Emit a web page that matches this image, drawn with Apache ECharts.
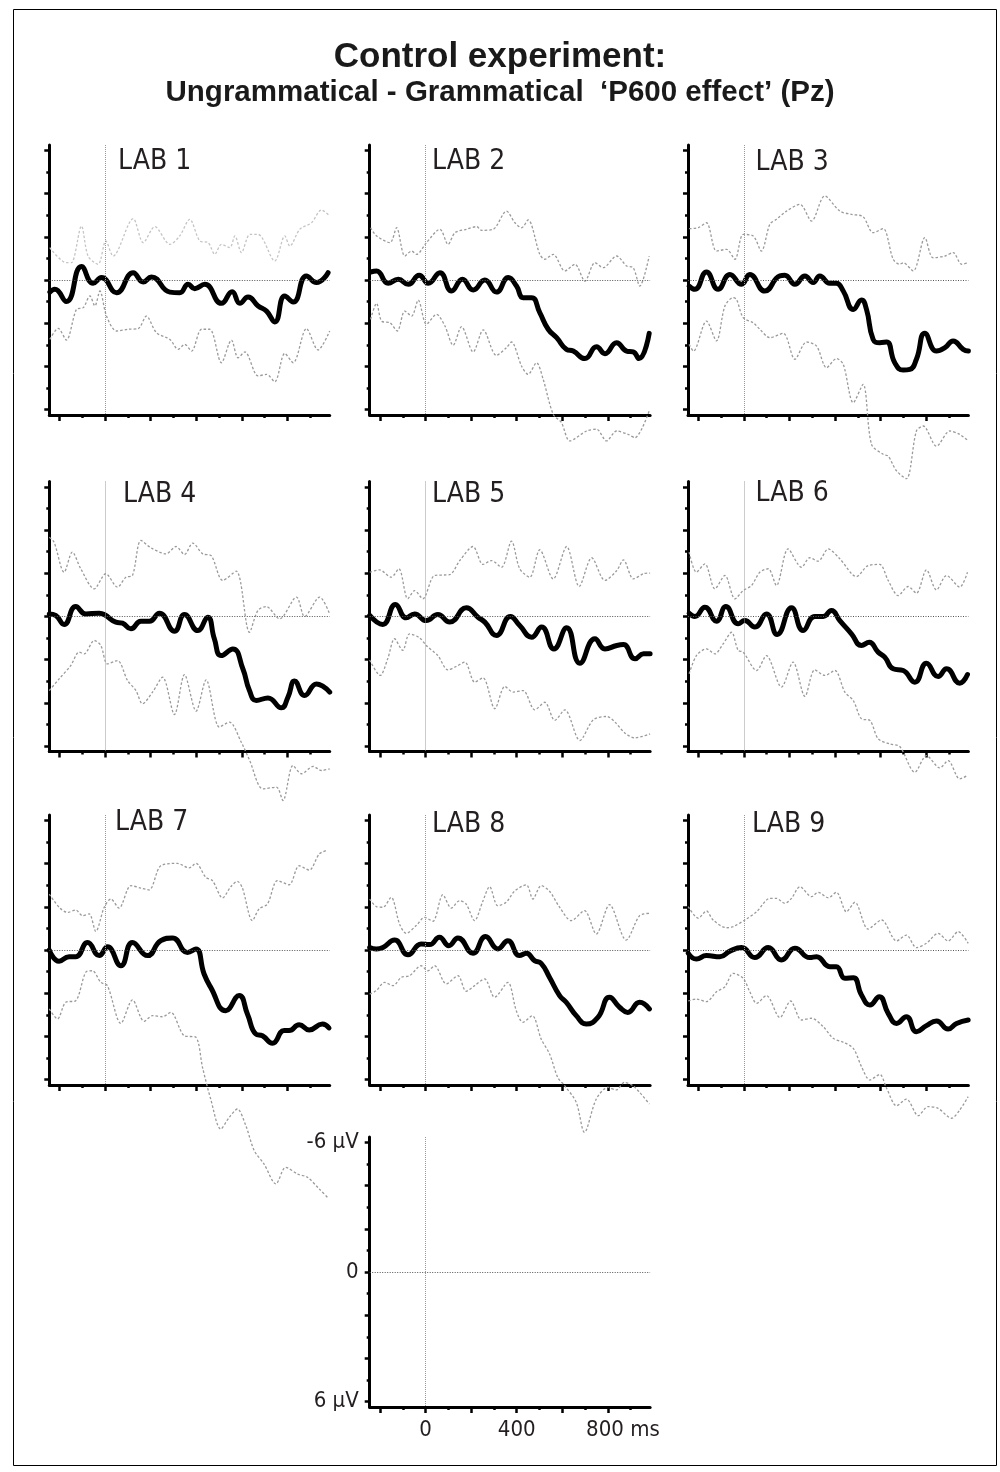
<!DOCTYPE html>
<html><head><meta charset="utf-8">
<script src="https://cdn.jsdelivr.net/npm/echarts@6/dist/echarts.min.js"></script>
<style>html,body{margin:0;padding:0;background:#fff}#c{width:1000px;height:1472px}</style>
</head><body><div id="c"></div>
<script>
// ---------- DATA (time ms, amplitude µV; negative plotted up) ----------
const labNames = ['LAB 1','LAB 2','LAB 3','LAB 4','LAB 5','LAB 6','LAB 7','LAB 8','LAB 9'];
const xRange = [-245, 985];
const yRange = [-6.25, 6.25];
const xMajorTicks = [-200, 0, 200, 400, 600, 800];
const xMinorTicks = [-100, 100, 300, 500, 700, 900];
const yMajorTicks = [-6, -4, -2, 0, 2, 4, 6];
const yMinorTicks = [-5, -3, -1, 1, 3, 5];
const xTickLabels = [0, 400, 800];
const yTickLabels = [-6, 0, 6];

const lab1Mean = [[-243,0.56],[-221,0.43],[-170,1.0],[-104,-0.62],[-53,0.15],[-16,-0.11],[50,0.59],[123,-0.34],[167,0.09],[203,-0.14],[284,0.56],[327,0.59],[364,0.2],[393,0.4],[437,0.2],[510,1.08],[557,0.54],[591,1.08],[627,0.79],[671,1.2],[708,1.44],[744,1.94],[788,0.74],[825,1.02],[883,-0.19],[927,0.12],[978,-0.34]];
const lab1Upper = [[-243,-1.5],[-170,-0.8],[-148,-0.8],[-104,-2.5],[-75,-1.11],[-31,-0.73],[3,-1.81],[35,-1.11],[123,-2.84],[167,-1.73],[218,-2.47],[284,-1.65],[327,-2.04],[371,-2.81],[415,-1.81],[452,-1.73],[481,-1.19],[510,-1.65],[547,-1.5],[569,-2.04],[598,-1.27],[635,-2.11],[671,-2.11],[744,-0.88],[788,-2.04],[810,-1.57],[854,-2.35],[905,-2.65],[949,-3.24],[985,-2.96]];
const lab1Lower = [[-243,2.75],[-206,2.24],[-170,2.78],[-126,1.36],[-96,1.28],[-67,0.74],[-45,1.2],[-23,0.51],[6,1.67],[50,2.36],[101,2.28],[145,2.25],[181,1.67],[225,2.44],[284,2.75],[320,3.21],[349,2.98],[379,3.29],[423,2.28],[459,2.28],[510,3.83],[554,2.78],[583,3.6],[613,3.33],[671,4.44],[708,4.37],[744,4.71],[788,3.4],[825,3.83],[883,2.25],[934,3.24],[985,2.36]];

const lab2Mean = [[-241,-0.37],[-215,-0.42],[-164,0.15],[-120,-0.03],[-76,0.2],[-28,-0.22],[12,0.15],[63,-0.34],[114,0.51],[162,-0.03],[209,0.46],[260,0],[311,0.56],[363,-0.11],[399,0.28],[428,0.82],[465,0.82],[501,1.51],[538,2.28],[575,2.67],[618,3.21],[648,3.29],[699,3.64],[750,3.09],[787,3.41],[838,2.9],[882,3.29],[911,3.33],[936,3.64],[981,2.47]];
const lab2Upper = [[-241,-2.42],[-215,-2.04],[-156,-1.73],[-127,-2.42],[-91,-1.11],[-61,-1.34],[-39,-1.19],[4,-1.73],[63,-2.35],[99,-1.65],[129,-2.19],[180,-2.35],[224,-2.47],[246,-2.3],[297,-2.35],[355,-3.19],[392,-2.65],[421,-2.42],[450,-2.78],[501,-1.19],[523,-0.96],[560,-1.19],[611,-0.42],[655,-0.73],[699,0.05],[743,-0.8],[779,-0.57],[838,-1.11],[882,-0.65],[911,-0.57],[940,0.28],[981,-1.11]];
const lab2Lower = [[-241,1.82],[-215,1.08],[-193,1.9],[-156,1.98],[-124,2.36],[-91,1.44],[-61,1.67],[-32,0.93],[4,2.05],[48,1.59],[85,2.13],[121,3.02],[158,2.16],[209,3.33],[253,2.31],[311,3.49],[355,3.13],[377,2.87],[421,3.98],[450,4.37],[487,3.83],[516,4.6],[560,6.22],[596,6.6],[633,7.45],[706,6.99],[750,6.91],[794,7.45],[838,6.99],[889,7.15],[918,7.3],[981,6.06]];

const lab3Mean = [[-240,0.28],[-215,0.43],[-164,-0.37],[-113,0.43],[-61,-0.26],[-10,0.2],[26,-0.26],[92,0.51],[158,-0.19],[180,-0.22],[224,0.2],[268,-0.19],[304,0.12],[333,-0.19],[377,0.15],[406,0.15],[436,0.51],[480,1.36],[516,0.93],[538,1.36],[567,2.75],[596,2.9],[626,2.87],[662,3.83],[699,4.17],[728,4.14],[757,3.67],[794,2.47],[845,3.29],[882,3.13],[918,2.82],[962,3.21],[985,3.29]];
const lab3Upper = [[-240,-2.38],[-200,-2.42],[-164,-2.65],[-120,-1.34],[-76,-1.42],[-39,-0.96],[-3,-2.11],[41,-2.04],[77,-1.34],[114,-2.58],[143,-2.81],[187,-3.19],[246,-3.5],[297,-2.73],[355,-3.89],[421,-3.19],[472,-3.04],[523,-2.93],[567,-2.19],[611,-2.38],[655,-0.96],[684,-0.73],[699,-0.8],[743,-0.42],[794,-1.96],[830,-1.03],[882,-1.11],[918,-1.27],[955,-0.73],[985,-0.8]];
const lab3Lower = [[-240,2.98],[-221,3.29],[-164,1.9],[-120,2.82],[-83,1.2],[-47,0.82],[-32,0.9],[-3,1.74],[41,1.98],[70,2.28],[114,2.67],[173,2.47],[224,3.67],[275,2.87],[319,3.06],[363,4.06],[406,3.64],[436,3.9],[480,5.68],[523,4.83],[560,7.61],[611,8.07],[633,8.15],[670,8.84],[713,9.2],[757,6.99],[787,6.76],[845,7.69],[904,6.99],[947,7.15],[985,7.45]];

const lab4Mean = [[-245,-0.12],[-217,-0.05],[-180,0.37],[-129,-0.46],[-85,-0.12],[-26,-0.15],[-4,-0.09],[47,0.26],[76,0.31],[113,0.57],[157,0.22],[194,0.22],[238,-0.15],[304,0.68],[348,-0.09],[406,0.65],[450,0.03],[479,1.03],[509,1.81],[560,1.5],[604,2.42],[633,3.43],[663,3.89],[714,3.77],[773,4.23],[802,3.73],[831,2.99],[875,3.66],[927,3.12],[956,3.24],[985,3.5]];
const lab4Upper = [[-245,-3.67],[-224,-3.44],[-180,-2.05],[-144,-2.98],[-107,-2.21],[-48,-1.28],[3,-1.98],[54,-1.36],[91,-1.82],[120,-1.9],[157,-3.52],[201,-3.18],[267,-2.9],[311,-3.24],[348,-2.87],[384,-3.4],[428,-2.9],[465,-2.82],[516,-1.67],[575,-2.1],[633,0.73],[670,-0.28],[707,-0.46],[765,0.11],[839,-0.9],[875,0],[941,-0.9],[985,-0.12]];
const lab4Lower = [[-245,3.43],[-202,2.89],[-151,2.27],[-114,1.65],[-92,1.73],[-48,1.11],[-19,1.34],[10,2.19],[54,2.04],[98,2.96],[135,3.43],[164,4.04],[208,3.5],[252,2.81],[304,4.54],[348,2.69],[399,4.38],[443,2.93],[501,5.12],[545,4.89],[597,5.82],[633,6.64],[692,7.98],[751,7.9],[780,8.52],[824,6.9],[861,7.28],[912,6.94],[949,7.13],[985,7.05]];

const lab5Mean = [[-245,-0.05],[-188,0.37],[-132,-0.56],[-85,0.06],[-48,-0.12],[3,0.19],[54,-0.09],[106,0.26],[179,-0.4],[230,0.03],[260,0.26],[311,0.88],[372,0],[413,0.42],[465,0.96],[509,0.49],[563,1.5],[619,0.52],[677,2.16],[743,1.03],[787,1.5],[839,1.34],[868,1.3],[919,1.96],[956,1.73],[985,1.73]];
const lab5Upper = [[-245,-2.05],[-202,-2.16],[-151,-1.82],[-117,-2.21],[-78,-0.82],[-48,-1.2],[-12,-0.82],[40,-1.9],[106,-1.94],[150,-2.59],[208,-3.24],[252,-2.41],[289,-2.59],[333,-2.28],[377,-3.49],[413,-2.21],[457,-1.82],[501,-3.09],[560,-1.74],[619,-3.24],[674,-1.39],[729,-2.72],[787,-1.67],[839,-2.13],[868,-2.62],[912,-1.74],[956,-1.98],[985,-2.01]];
const lab5Lower = [[-245,2.01],[-199,2.73],[-166,1.96],[-136,1.03],[-100,1.57],[-70,0.8],[-26,0.99],[3,1.34],[54,1.81],[98,2.47],[135,2.31],[172,2.11],[216,3.04],[252,2.84],[304,4.27],[348,3.24],[384,3.5],[428,3.43],[479,4.32],[523,3.97],[567,4.81],[611,4.32],[677,5.74],[736,4.78],[795,4.63],[831,4.89],[875,5.4],[919,5.62],[985,5.43]];

const lab6Mean = [[-240,-0.15],[-215,0],[-171,-0.43],[-120,0.22],[-79,-0.46],[-25,0.34],[4,0.19],[48,0.49],[99,-0.12],[146,0.83],[209,-0.4],[260,0.65],[311,0],[348,0],[384,-0.28],[421,0.19],[472,0.8],[516,1.34],[550,1.19],[589,1.65],[618,1.88],[655,2.42],[699,2.5],[750,3.04],[801,2.16],[852,2.78],[889,2.42],[947,3.09],[981,2.69]];
const lab6Upper = [[-240,-2.98],[-208,-2.05],[-171,-2.44],[-127,-1.28],[-83,-1.9],[-39,-0.82],[-3,-1.2],[34,-1.44],[70,-2.05],[107,-2.21],[143,-1.44],[194,-3.13],[253,-2.28],[289,-2.72],[326,-2.56],[370,-3.13],[421,-2.67],[494,-1.85],[545,-2.36],[596,-2.41],[633,-1.67],[677,-0.97],[721,-1.39],[757,-1.08],[801,-2.16],[845,-1.23],[889,-1.9],[947,-1.36],[981,-2.05]];
const lab6Lower = [[-240,2.65],[-208,1.81],[-164,1.5],[-127,1.73],[-91,1.27],[-54,0.73],[-25,1.57],[-3,1.65],[56,2.5],[99,1.81],[165,3.27],[216,2.11],[268,3.7],[311,2.47],[355,2.73],[399,2.5],[443,3.5],[480,3.89],[516,4.74],[553,4.81],[589,5.66],[640,5.9],[684,6.02],[750,7.21],[801,6.44],[860,7.01],[896,6.67],[947,7.52],[981,7.36]];

const lab7Mean = [[-245,0],[-202,0.52],[-158,0.31],[-129,0.31],[-77,-0.35],[-26,0.26],[10,-0.15],[69,0.73],[120,-0.35],[186,0.26],[244,-0.43],[295,-0.56],[361,0.11],[398,-0.05],[434,1.11],[463,1.73],[529,2.81],[588,2.11],[624,2.96],[661,3.89],[690,3.97],[734,4.32],[785,3.73],[807,3.73],[851,3.46],[895,3.7],[953,3.43],[982,3.61]];
const lab7Upper = [[-245,-2.59],[-202,-1.98],[-165,-1.74],[-129,-1.85],[-99,-1.59],[-70,-1.67],[-41,-0.86],[-4,-1.98],[25,-2.36],[61,-1.94],[113,-2.98],[156,-2.87],[193,-2.78],[244,-3.9],[317,-4.01],[368,-3.8],[398,-4.01],[442,-3.36],[471,-3.21],[515,-2.41],[551,-2.93],[580,-3.18],[602,-2.87],[646,-1.36],[675,-1.9],[712,-2.13],[756,-3.21],[807,-3.02],[851,-3.9],[895,-3.7],[939,-4.44],[975,-4.63]];
const lab7Lower = [[-245,2.73],[-209,3.19],[-173,2.42],[-129,2.35],[-85,1.03],[-56,0.96],[-19,1.5],[10,1.65],[69,3.4],[120,2.31],[171,3.3],[208,3.04],[251,3.09],[288,2.89],[347,3.97],[398,4.04],[427,5.43],[463,6.9],[507,8.29],[544,7.75],[580,7.36],[617,8.13],[654,9.29],[697,9.91],[749,10.83],[792,10.06],[844,10.37],[887,10.52],[939,11.06],[975,11.45]];

const lab8Mean = [[-245,-0.12],[-216,-0.05],[-187,-0.12],[-136,-0.46],[-77,0.22],[-19,-0.28],[18,-0.25],[61,-0.59],[102,-0.2],[142,-0.56],[208,0.15],[263,-0.62],[317,-0.05],[361,-0.43],[412,0.26],[442,0.15],[478,0.49],[507,0.62],[544,1.27],[588,2.11],[617,2.42],[661,3.04],[705,3.43],[756,3.12],[807,2.19],[851,2.65],[887,2.89],[939,2.42],[982,2.73]];
const lab8Upper = [[-245,-2.36],[-216,-2.01],[-187,-1.98],[-151,-2.44],[-114,-1.2],[-85,-0.77],[-41,-1.13],[-4,-1.51],[32,-1.33],[76,-2.56],[113,-1.94],[149,-2.28],[178,-2.13],[215,-1.36],[251,-2.25],[281,-2.93],[317,-2.05],[354,-2.21],[390,-2.72],[442,-3.02],[471,-2.36],[507,-2.98],[544,-2.72],[588,-1.98],[639,-1.36],[697,-1.82],[749,-0.74],[807,-2.1],[880,-0.46],[939,-1.59],[982,-1.7]];
const lab8Lower = [[-245,2.04],[-216,1.88],[-180,1.5],[-143,1.65],[-107,1.27],[-70,1.19],[-19,0.73],[10,0.96],[40,0.73],[91,1.57],[142,1.19],[178,1.91],[215,1.65],[259,1.34],[303,2.19],[361,1.5],[398,2.81],[427,3.35],[468,3.04],[507,4.12],[544,4.81],[580,5.9],[610,6.28],[661,7.05],[697,8.44],[749,6.9],[800,6.36],[836,6.48],[873,6.13],[909,6.28],[939,6.59],[982,7.13]];

const lab9Mean = [[-244,0.15],[-208,0.42],[-164,0.26],[-105,0.31],[-61,0.05],[-10,-0.11],[48,0.35],[107,-0.11],[165,0.46],[224,-0.08],[289,0.35],[319,0.31],[377,0.77],[406,0.77],[443,1.31],[480,1.28],[516,2.08],[553,2.55],[594,2.16],[633,2.93],[670,3.4],[713,3.09],[757,3.78],[801,3.5],[845,3.29],[896,3.66],[933,3.4],[984,3.24]];
const lab9Upper = [[-244,-2.01],[-200,-1.47],[-164,-1.81],[-135,-1.39],[-76,-1.03],[-47,-1.08],[12,-1.44],[56,-1.77],[114,-2.39],[143,-2.39],[180,-2.16],[209,-2.39],[246,-2.93],[297,-2.47],[326,-2.67],[370,-2.42],[406,-2.67],[450,-1.77],[487,-2.21],[545,-0.97],[604,-1.39],[670,-0.42],[713,-0.69],[757,-0.11],[801,-0.31],[852,-0.77],[896,-0.42],[940,-0.85],[984,-0.31]];
const lab9Lower = [[-244,2.36],[-208,2.27],[-164,2.39],[-120,1.93],[-83,1.7],[-47,1.08],[-3,1.31],[26,1.93],[56,2.47],[99,2.11],[158,3.13],[205,2.36],[253,3.24],[297,3.16],[348,3.55],[392,4.09],[436,4.27],[480,4.55],[516,5.4],[553,6.02],[596,5.76],[626,6.4],[670,7.21],[713,6.9],[765,7.67],[808,7.25],[852,7.33],[911,7.79],[947,7.41],[984,6.79]];

const meanSeries = [lab1Mean, lab2Mean, lab3Mean, lab4Mean, lab5Mean, lab6Mean, lab7Mean, lab8Mean, lab9Mean];
const upperSeries = [lab1Upper, lab2Upper, lab3Upper, lab4Upper, lab5Upper, lab6Upper, lab7Upper, lab8Upper, lab9Upper];
const lowerSeries = [lab1Lower, lab2Lower, lab3Lower, lab4Lower, lab5Lower, lab6Lower, lab7Lower, lab8Lower, lab9Lower];

// ---------- LAYOUT ----------
const colLefts = [49.3, 369.7, 688];
const rowTops = [145, 481.5, 815];
const legendGrid = {left: 369.7, top: 1137};
const gridW = 280.4, gridH = 270;
const labLabelPos = [[118,162],[432,162],[755.5,163],[123,495],[432,495],[755.5,493.5],[115,823],[432,825],[752,825]];
const NARROW = '"Liberation Sans Narrow", "DejaVu Sans Condensed", "Liberation Sans", sans-serif';

const chart = echarts.init(document.getElementById('c'), null, {renderer: 'canvas'});

const grids = [], xAxes = [], yAxes = [], series = [];
function addGrid(left, top, withLabels) {
  const g = grids.length;
  grids.push({left: left, top: top, width: gridW, height: gridH, outerBoundsMode: 'none', containLabel: false});
  const baseX = {gridIndex: g, type: 'value', min: xRange[0], max: xRange[1], position: 'bottom', splitLine: {show: false}};
  const baseY = {gridIndex: g, type: 'value', min: yRange[0], max: yRange[1], inverse: true, position: 'left', splitLine: {show: false}};
  xAxes.push(Object.assign({}, baseX, {
    axisLine: {show: true, onZero: false, lineStyle: {color: '#000', width: 3}},
    axisTick: {show: true, customValues: xMajorTicks, length: 6, inside: false, lineStyle: {color: '#000', width: 2.5}},
    axisLabel: withLabels ? {show: true, customValues: xTickLabels, margin: 12, fontSize: 22, fontFamily: NARROW, color: '#231f20',
      formatter: function (v) { return v === 800 ? '{p| }800 ms' : String(v); },
      rich: {p: {width: 30, fontSize: 22, fontFamily: NARROW}}} : {show: false}
  }));
  xAxes.push(Object.assign({}, baseX, {
    axisLine: {show: false, onZero: false},
    axisTick: {show: true, customValues: xMinorTicks, length: 3, inside: false, lineStyle: {color: '#000', width: 2.5}},
    axisLabel: {show: false}
  }));
  yAxes.push(Object.assign({}, baseY, {
    axisLine: {show: true, onZero: false, lineStyle: {color: '#000', width: 3}},
    axisTick: {show: true, customValues: yMajorTicks, length: 5, inside: false, lineStyle: {color: '#000', width: 2.5}},
    axisLabel: withLabels ? {show: true, customValues: yTickLabels, margin: 11, fontSize: 22, fontFamily: NARROW, color: '#231f20',
      formatter: function (v) { return v === 0 ? '0' : (v + ' µV'); }} : {show: false}
  }));
  yAxes.push(Object.assign({}, baseY, {
    axisLine: {show: false, onZero: false},
    axisTick: {show: true, customValues: yMinorTicks, length: 3, inside: false, lineStyle: {color: '#000', width: 2.5}},
    axisLabel: {show: false}
  }));
  return g;
}

const zeroMarks = {
  silent: true, symbol: ['none', 'none'], label: {show: false}, animation: false,
  data: [
    {yAxis: 0, lineStyle: {color: '#555', type: [1, 1.5], width: 1}},
    {xAxis: 0, lineStyle: {color: '#999', type: [1, 1], width: 1}}
  ]
};

for (let i = 0; i < 9; i++) {
  const g = addGrid(colLefts[i % 3], rowTops[Math.floor(i / 3)], false);
  const ax = {xAxisIndex: 2 * g, yAxisIndex: 2 * g};
  series.push(Object.assign({}, ax, {
    type: 'line', name: labNames[i] + ' upper', data: upperSeries[i], showSymbol: false, symbol: 'none', clip: false, smooth: 0.3, z: 2,
    lineStyle: {color: i === 0 ? '#c4c4c4' : '#9a9a9a', width: 1.3, type: [2.5, 2]}, markLine: zeroMarks
  }));
  series.push(Object.assign({}, ax, {
    type: 'line', name: labNames[i] + ' lower', data: lowerSeries[i], showSymbol: false, symbol: 'none', clip: false, smooth: 0.3, z: 2,
    lineStyle: {color: '#9a9a9a', width: 1.3, type: [2.5, 2]}
  }));
  series.push(Object.assign({}, ax, {
    type: 'line', name: labNames[i], data: meanSeries[i], showSymbol: false, symbol: 'none', clip: false, smooth: 0.5, z: 3,
    lineStyle: {color: '#000', width: 5, cap: 'round', join: 'round'}
  }));
}
const lg = addGrid(legendGrid.left, legendGrid.top, true);
series.push({type: 'line', xAxisIndex: 2 * lg, yAxisIndex: 2 * lg, data: [], showSymbol: false, markLine: zeroMarks});

const graphics = [
  {type: 'rect', shape: {x: 13.5, y: 9.5, width: 983, height: 1456}, style: {fill: 'none', stroke: '#000', lineWidth: 1}, silent: true, z: 0},
  {type: 'text', style: {text: 'Control experiment:', x: 500, y: 57, align: 'center', verticalAlign: 'middle',
    font: 'bold 35px "Liberation Sans", Arial, sans-serif', fill: '#1a1a1a'}},
  {type: 'text', style: {text: 'Ungrammatical - Grammatical  ‘P600 effect’ (Pz)', x: 500, y: 93, align: 'center', verticalAlign: 'middle',
    font: 'bold 29.5px "Liberation Sans", Arial, sans-serif', fill: '#1a1a1a'}}
];
labNames.forEach(function (n, i) {
  graphics.push({type: 'text', style: {text: n, x: labLabelPos[i][0], y: labLabelPos[i][1], align: 'left', verticalAlign: 'middle',
    font: '28px ' + NARROW, fill: '#231f20'}});
});

chart.setOption({
  backgroundColor: '#fff',
  animation: false,
  grid: grids,
  xAxis: xAxes,
  yAxis: yAxes,
  series: series,
  graphic: graphics
});
</script>
</body></html>
